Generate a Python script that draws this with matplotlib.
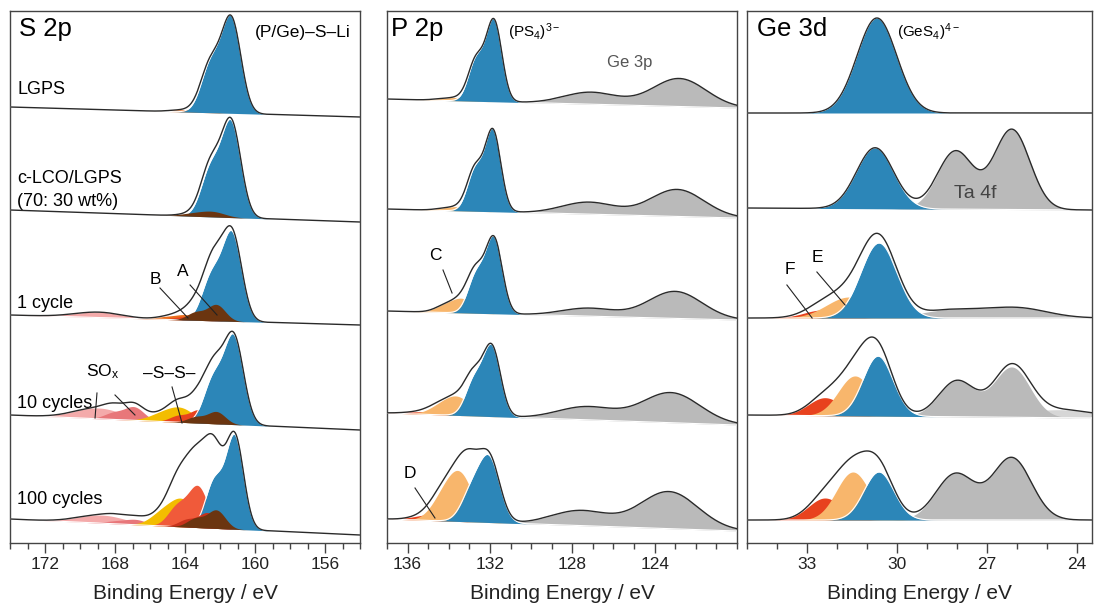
import numpy as np
import matplotlib
matplotlib.use("Agg")
import matplotlib.pyplot as plt
from matplotlib.ticker import MultipleLocator

plt.rcParams["font.family"] = ["Liberation Sans", "DejaVu Sans"]
plt.rcParams["mathtext.fontset"] = "custom"
plt.rcParams["mathtext.rm"] = "Liberation Sans"
plt.rcParams["mathtext.it"] = "Liberation Sans:italic"

# colours of the fitted components
colors = {
    "blue": "#2c86b8", "gray": "#bababa", "lgray": "#d6d6d6",
    "lorange": "#f8b66c", "red": "#e8421e", "orange": "#ea6e1c",
    "brown": "#6b3510", "dred": "#c8321c", "tomato": "#f05a3a",
    "yellow": "#f3bd00", "salmon": "#e8777a", "pink": "#f4aaaa",
}

# ---- S 2p panel (doublet components: centre, height, sigma) ----
s2p_labels = ["LGPS", "c-LCO/LGPS\n(70: 30 wt%)", "1 cycle", "10 cycles", "100 cycles"]
s2p_label_y = [453, 353, 240, 140, 43]
s2p_base_left = [436, 333, 228, 128, 24]
s2p_base_right = [426, 321, 218, 113, 8]
s2p_comps = [
    [("orange", 163.2, 3, 0.6), ("blue", 161.35, 93, 0.55)],
    [("blue", 161.35, 93, 0.55), ("brown", 162.4, 5, 0.7)],
    [("pink", 168.6, 4, 1.2), ("orange", 163.9, 5, 0.6), ("red", 163.1, 5, 0.55),
     ("blue", 161.3, 86, 0.55), ("brown", 162.2, 16, 0.5)],
    [("pink", 168.6, 8, 1.2), ("salmon", 166.9, 13, 0.55), ("yellow", 164.2, 13, 0.75),
     ("red", 163.2, 13, 0.5), ("blue", 161.2, 86, 0.55), ("brown", 162.2, 12, 0.5)],
    [("pink", 168.4, 6, 1.2), ("salmon", 166.8, 5, 0.6), ("yellow", 164.1, 25, 0.7),
     ("tomato", 163.25, 40, 0.55), ("blue", 161.15, 92, 0.5),
     ("dred", 162.7, 15, 0.5), ("brown", 162.2, 18, 0.5)],
]

# ---- P 2p panel ----
p2p_base_left = [444, 334, 232, 130, 24]
p2p_base_right = [435, 325, 223, 118, 12]
p2p_comps = [
    [("lorange", 133.4, 3, 0.5), ("blue", 131.8, 80, 0.38)],
    [("lorange", 133.3, 4, 0.5), ("blue", 131.85, 80, 0.38)],
    [("lorange", 133.3, 13, 0.5), ("blue", 131.8, 74, 0.4)],
    [("red", 135.0, 2, 0.6), ("lorange", 133.5, 16, 0.6), ("blue", 131.9, 68, 0.42)],
    [("red", 134.6, 5, 0.6), ("lorange", 133.4, 42, 0.6), ("blue", 132.0, 60, 0.5)],
]
ge3p_peaks = [
    [(122.8, 28, 1.3), (127.1, 12, 1.3)],
    [(122.9, 27, 1.3), (127.2, 12, 1.3)],
    [(123.0, 27, 1.3), (127.2, 8, 1.3)],
    [(123.2, 30, 1.4), (127.3, 13, 1.4)],
    [(123.3, 37, 1.4), (127.6, 15, 1.4)],
]

# ---- Ge 3d panel (single components) ----
ge3d_base_left = [430, 335, 225, 128, 23]
ge3d_base_right = [430, 333, 225, 125, 23]
ge3d_comps = [
    [("blue", 30.67, 95, 0.66)],
    [("blue", 30.73, 61, 0.62)],
    [("red", 32.5, 8, 0.6), ("lorange", 31.6, 21, 0.75), ("blue", 30.6, 75, 0.6)],
    [("red", 32.4, 18, 0.55), ("lorange", 31.4, 40, 0.55), ("blue", 30.63, 60, 0.5)],
    [("red", 32.4, 22, 0.55), ("lorange", 31.47, 48, 0.55), ("blue", 30.6, 48, 0.5)],
]
ta4f_peaks = [
    [],
    [(26.17, 80, 0.6), (28.05, 58, 0.6)],
    [(26.0, 10, 1.0), (28.2, 8, 1.0)],
    [(26.17, 50, 0.6), (28.0, 36, 0.6)],
    [(26.17, 62, 0.65), (28.05, 46, 0.65)],
]
ta_tail = [0, 0, 0, 8, 0]


def gauss(E, c, h, s):
    return h * np.exp(-(E - c) ** 2 / (2 * s * s))


def doublet(E, c, h, s, split):
    if split == 0:
        return gauss(E, c, h, s)
    return gauss(E, c, h, s) + gauss(E, c + split, h / 2, s)


def draw_panel(ax, xlim, base_l, base_r, comps, split, gray=None, tail=None):
    E = np.linspace(xlim[1], xlim[0], 800)
    for i in range(len(comps)):
        frac = (E - xlim[1]) / (xlim[0] - xlim[1])
        bg = base_r[i] + (base_l[i] - base_r[i]) * frac
        total = np.zeros_like(E)
        if tail is not None and tail[i] > 0:
            t = gauss(E, 24.6, tail[i], 1.2)
            ax.fill_between(E, bg, bg + t, color=colors["lgray"], lw=0, zorder=1)
            total += t
        if gray is not None and len(gray[i]) > 0:
            g = sum(gauss(E, c, h, s) for c, h, s in gray[i])
            ax.fill_between(E, bg, bg + g, color=colors["gray"], lw=0, zorder=2)
            total += g
        for k, (name, c, h, s) in enumerate(comps[i]):
            y = doublet(E, c, h, s, split)
            ax.fill_between(E, bg, bg + y, color=colors[name], lw=0, zorder=3 + k)
            if name == "blue":
                ax.plot(E, bg + y, color="white", lw=0.8, zorder=3 + k)
            total += y
        ax.plot(E, bg + total, color="#2a2a2a", lw=1.0, zorder=20)
    ax.set_xlim(*xlim)
    ax.set_ylim(0, 532)
    ax.set_yticks([])
    for sp in ax.spines.values():
        sp.set_color("#444444")
        sp.set_linewidth(1.0)
    ax.tick_params(axis="x", which="major", length=7, width=1, color="#444444",
                   labelsize=12.5, pad=3, labelcolor="#222222")
    ax.tick_params(axis="x", which="minor", length=4, width=1, color="#444444")
    ax.set_xlabel("Binding Energy / eV", fontsize=15, labelpad=9, color="#222222")


fig = plt.figure(figsize=(10.97, 6.11), dpi=100)
W, H = 1097, 611
ax1 = fig.add_axes([10 / W, 68 / H, 350 / W, 532 / H])
ax2 = fig.add_axes([387 / W, 68 / H, 350 / W, 532 / H])
ax3 = fig.add_axes([747 / W, 68 / H, 345 / W, 532 / H])

draw_panel(ax1, (174, 154), s2p_base_left, s2p_base_right, s2p_comps, 1.18)
ax1.set_xticks([172, 168, 164, 160, 156])
ax1.xaxis.set_minor_locator(MultipleLocator(1))

draw_panel(ax2, (137, 120), p2p_base_left, p2p_base_right, p2p_comps, 0.87, gray=ge3p_peaks)
ax2.set_xticks([136, 132, 128, 124])
ax2.xaxis.set_minor_locator(MultipleLocator(1))

draw_panel(ax3, (35, 23.5), ge3d_base_left, ge3d_base_right, ge3d_comps, 0, gray=ta4f_peaks, tail=ta_tail)
ax3.set_xticks([33, 30, 27, 24])
ax3.xaxis.set_minor_locator(MultipleLocator(1))

line_kw = dict(color="#222222", lw=0.8, zorder=25)

# ---- panel 1 text ----
ax1.text(173.5, 514, "S 2p", fontsize=18.5, ha="left", va="center")
ax1.text(157.3, 511, "(P/Ge)–S–Li", fontsize=12.5, ha="center", va="center")
for lab, ly in zip(s2p_labels, s2p_label_y):
    ax1.text(173.6, ly, lab, fontsize=13, ha="left", va="center", linespacing=1.4)
ax1.text(165.7, 263, "B", fontsize=12.5, ha="center", va="center")
ax1.text(164.1, 271, "A", fontsize=12.5, ha="center", va="center")
ax1.plot([165.43, 163.83], [255, 225], **line_kw)
ax1.plot([163.71, 162.17], [258, 228], **line_kw)
ax1.text(168.7, 171, "SO$_\\mathregular{x}$", fontsize=12.5, ha="center", va="center")
ax1.text(164.9, 170, "–S–S–", fontsize=12.5, ha="center", va="center")
ax1.plot([169.03, 169.14], [150, 125], **line_kw)
ax1.plot([168.0, 166.86], [148, 128], **line_kw)
ax1.plot([164.74, 164.17], [156, 120], **line_kw)

# ---- panel 2 text ----
ax2.text(136.8, 514, "P 2p", fontsize=18.5, ha="left", va="center")
ax2.text(131.1, 511, "(PS$_4$)$^{3-}$", fontsize=11, ha="left", va="center")
ax2.text(125.2, 481, "Ge 3p", fontsize=12, ha="center", va="center", color="#555555")
ax2.text(134.67, 288, "C", fontsize=12.5, ha="center", va="center")
ax2.plot([134.28, 133.84], [273, 250], **line_kw)
ax2.text(135.88, 70, "D", fontsize=12.5, ha="center", va="center")
ax2.plot([135.64, 134.67], [55, 25], **line_kw)

# ---- panel 3 text ----
ax3.text(34.67, 514, "Ge 3d", fontsize=18.5, ha="left", va="center")
ax3.text(30.0, 511, "(GeS$_4$)$^{4-}$", fontsize=11, ha="left", va="center")
ax3.text(27.4, 350, "Ta 4f", fontsize=14, ha="center", va="center", color="#444444", zorder=30)
ax3.text(33.57, 273, "F", fontsize=12.5, ha="center", va="center")
ax3.plot([33.67, 32.83], [258, 225], **line_kw)
ax3.text(32.67, 285, "E", fontsize=12.5, ha="center", va="center")
ax3.plot([32.67, 31.73], [271, 238], **line_kw)

fig.savefig("out.png", dpi=100)
